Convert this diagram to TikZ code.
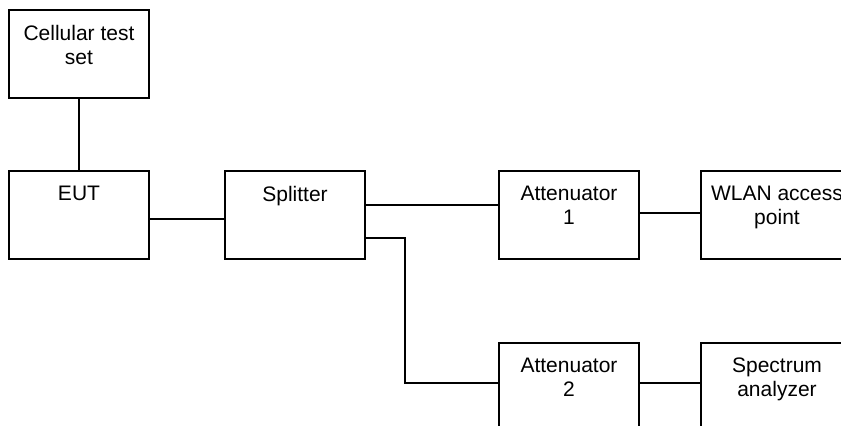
\documentclass[tikz,border=0pt]{standalone}
\usepackage{fontspec}
\setmainfont{Liberation Sans}
\newcommand{\blocktext}[2]{\parbox[t][29pt][t]{#1}{\centering #2}}
\tikzset{
  block/.style={draw, line width=1pt, anchor=north west, inner xsep=0pt, inner ysep=7.5pt,
    font=\fontsize{10.5}{12}\selectfont},
  wire/.style={line width=1pt}
}
\begin{document}
\begin{tikzpicture}[x=0.5pt,y=-0.5pt]
    \useasboundingbox (0,0) rectangle (841,425);
    \clip (0,0) rectangle (841,425);
    \node[block] (cell) at (8,9){\blocktext{70pt}{Cellular test\\set}};
    \node[block] (eut) at (8,170){\blocktext{70pt}{EUT}};
    \node[block] (split) at (224,170){\blocktext{70pt}{Splitter}};
    \node[block] (att1) at (498,170){\blocktext{70pt}{Attenuator\\1}};
    \node[block] (wlan) at (700,170){\blocktext{76pt}{WLAN access\\point}};
    \node[block] (att2) at (498,342){\blocktext{70pt}{Attenuator\\2}};
    \node[block] (spec) at (700,342){\blocktext{76pt}{Spectrum\\analyzer}};
    \draw[wire](cell) -- (eut);
    \draw[wire]([yshift=-1.75pt]eut.east) -- ([yshift=-1.75pt]split.west);
    \draw[wire]([yshift=5.25pt]split.east) -- ([yshift=5.25pt]att1.west);
    \draw[wire]([yshift=1.25pt]att1.east) -- ([yshift=1.25pt]wlan.west);
    \draw[wire]([yshift=-11.25pt]split.east) -- ++(39,0) |- ([yshift=2.25pt]att2.west);
    \draw[wire]([yshift=2.25pt]att2.east) -- ([yshift=2.25pt]spec.west);
  \end{tikzpicture}
\end{document}
